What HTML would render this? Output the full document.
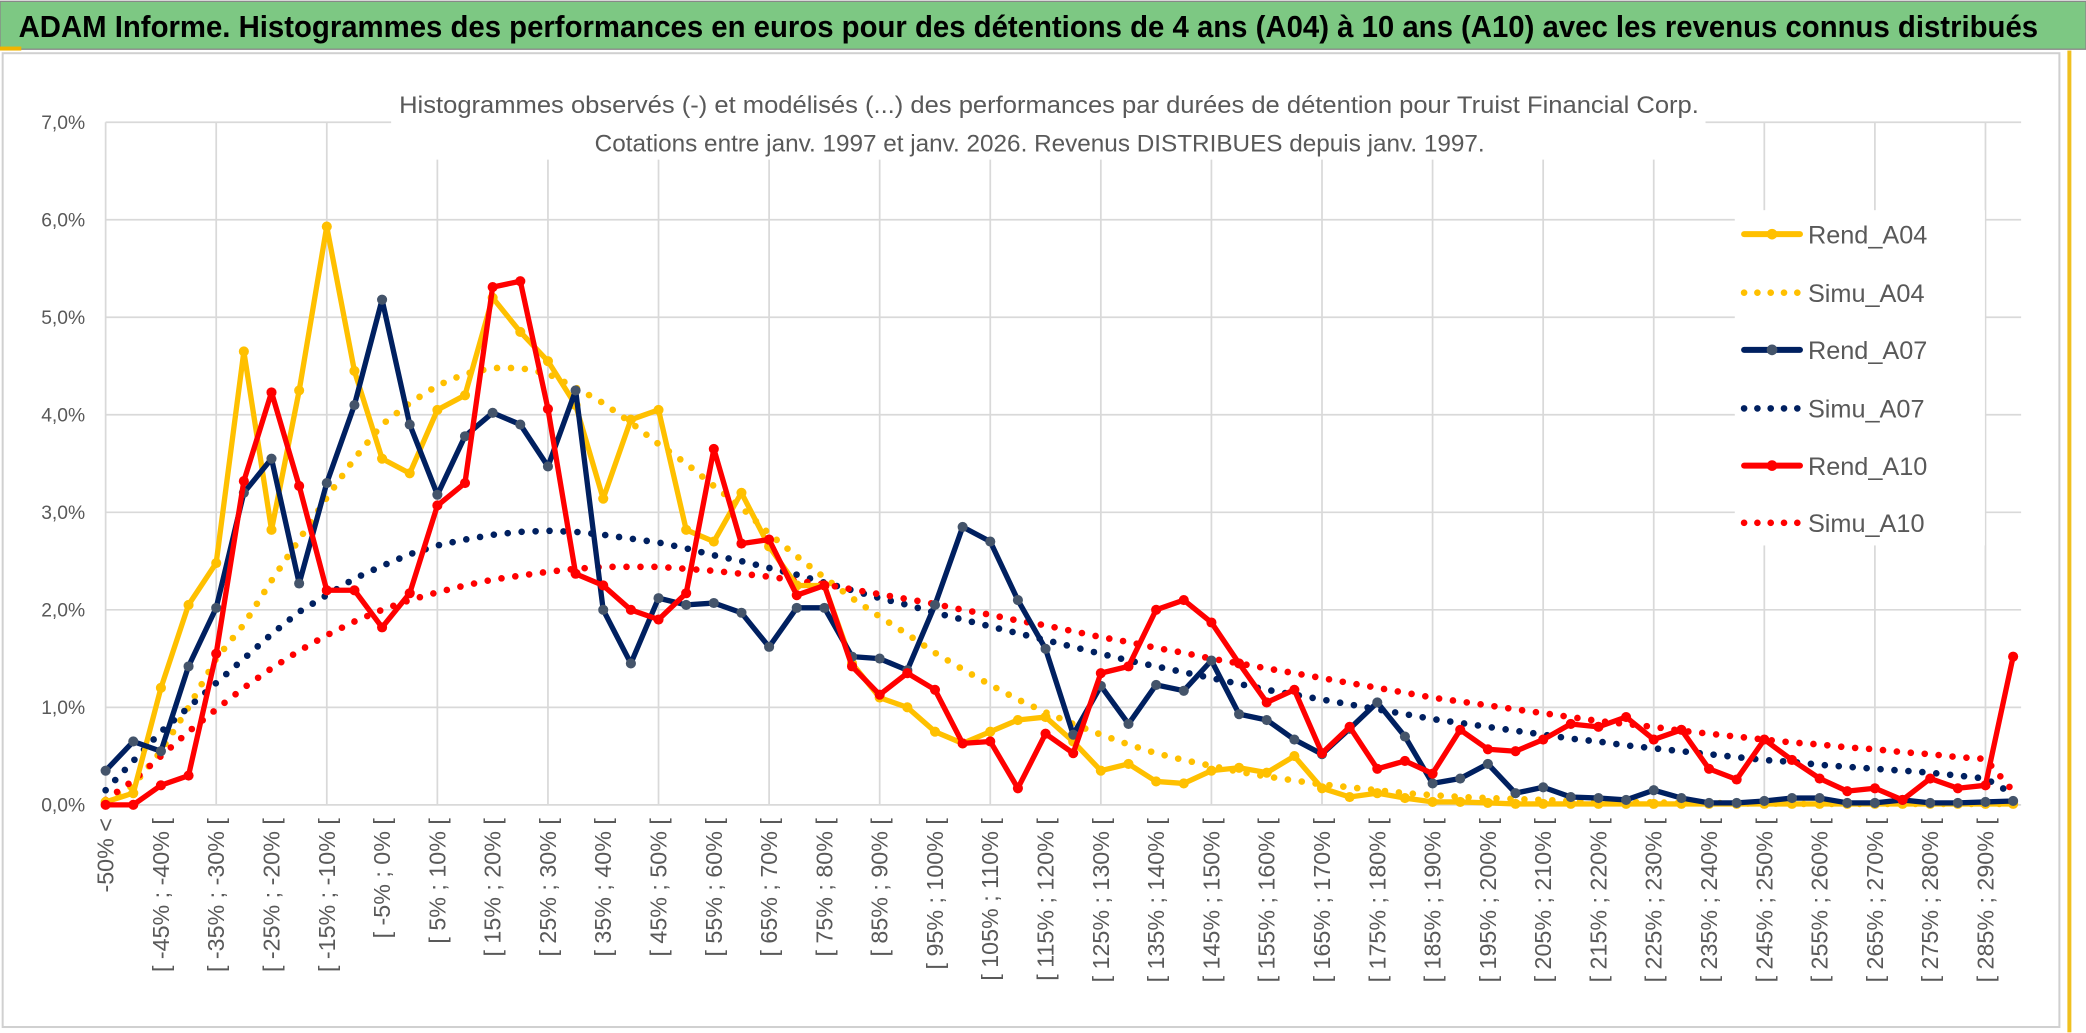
<!DOCTYPE html>
<html><head><meta charset="utf-8"><style>
html,body{margin:0;padding:0;background:#fff;width:2086px;height:1033px;overflow:hidden}
svg{display:block}
text{font-family:"Liberation Sans Narrow","Liberation Sans",sans-serif}
</style></head><body>
<svg id="chart" width="2086" height="1033" viewBox="0 0 1568 776.5" preserveAspectRatio="none" xmlns="http://www.w3.org/2000/svg">
<rect x="0" y="0" width="1568" height="776.5" fill="#fff"/>
<rect x="0" y="1" width="1568" height="36" fill="#7dc883" stroke="#888" stroke-width="1"/>
<rect x="0" y="35" width="16" height="3" fill="#f0b400"/>
<rect x="1554" y="38" width="3" height="738" fill="#f0c020"/>
<text x="14" y="28" font-size="23" font-weight="bold" fill="#000" textLength="1518" lengthAdjust="spacingAndGlyphs">ADAM Informe. Histogrammes des performances en euros pour des détentions de 4 ans (A04) à 10 ans (A10) avec les revenus connus distribués</text>
<rect x="2" y="40" width="1546" height="732" fill="none" stroke="#d0d0d0" stroke-width="1.5"/>
<g id="grid"></g>
<rect x="294" y="64" width="988" height="56" fill="#fff"/>
<text x="300" y="85" font-size="18" fill="#595959" textLength="977" lengthAdjust="spacingAndGlyphs">Histogrammes observés (-) et modélisés (...) des performances par durées de détention pour Truist Financial Corp.</text>
<text x="447" y="114" font-size="18" fill="#595959" textLength="669" lengthAdjust="spacingAndGlyphs">Cotations entre janv. 1997 et janv. 2026. Revenus DISTRIBUES depuis janv. 1997.</text>
<g id="series"></g>
<g id="xlabels"></g>
<g id="ylabels"></g>
<g id="legend"></g>
</svg>
<script>
const categories = [];
categories.push('-50% <');
for (let k = 1; k <= 68; k++) categories.push('[ ' + (-55 + 5*k) + '% ; ' + (-50 + 5*k) + '% [');
categories.push('> 290%');
const yTicks = [0,1,2,3,4,5,6,7];
const yTickLabels = ['0,0%','1,0%','2,0%','3,0%','4,0%','5,0%','6,0%','7,0%'];
const rendA04 = [0.03,0.12,1.2,2.05,2.48,4.65,2.82,4.25,5.93,4.45,3.55,3.4,4.05,4.2,5.2,4.85,4.55,4.1,3.14,3.95,4.05,2.82,2.7,3.2,2.65,2.25,2.25,1.45,1.1,1.0,0.75,0.63,0.75,0.87,0.9,0.65,0.35,0.42,0.24,0.22,0.35,0.38,0.33,0.5,0.17,0.08,0.12,0.07,0.03,0.03,0.02,0.01,0.01,0.01,0.01,0.01,0.01,0.01,0.01,0.01,0.01,0.01,0.01,0.01,0.01,0.01,0.01,0.01,0.01,0.01];
const simuA04 = [0.05,0.2,0.55,1.0,1.5,1.85,2.3,2.72,3.15,3.55,3.9,4.12,4.3,4.42,4.48,4.48,4.42,4.28,4.12,3.92,3.7,3.5,3.27,3.05,2.78,2.55,2.33,2.12,1.93,1.75,1.56,1.39,1.23,1.08,0.95,0.83,0.72,0.62,0.53,0.46,0.4,0.34,0.29,0.25,0.21,0.18,0.15,0.12,0.1,0.08,0.07,0.06,0.05,0.04,0.035,0.03,0.025,0.02,0.02,0.015,0.015,0.01,0.01,0.01,0.01,0.01,0.01,0.01,0.01,0.01];
const rendA07 = [0.35,0.65,0.55,1.42,2.02,3.2,3.55,2.27,3.3,4.1,5.18,3.9,3.18,3.78,4.02,3.9,3.47,4.25,2.0,1.45,2.12,2.05,2.07,1.97,1.62,2.02,2.02,1.52,1.5,1.38,2.05,2.85,2.7,2.1,1.6,0.72,1.22,0.83,1.23,1.17,1.48,0.93,0.87,0.67,0.52,0.78,1.05,0.7,0.22,0.27,0.42,0.12,0.18,0.08,0.07,0.05,0.15,0.07,0.02,0.02,0.04,0.07,0.07,0.02,0.02,0.05,0.02,0.02,0.03,0.04];
const simuA07 = [0.15,0.45,0.75,1.0,1.25,1.5,1.75,1.98,2.15,2.32,2.45,2.57,2.66,2.72,2.77,2.8,2.81,2.8,2.77,2.73,2.69,2.63,2.56,2.5,2.43,2.36,2.28,2.2,2.12,2.05,1.97,1.9,1.83,1.76,1.69,1.62,1.55,1.48,1.42,1.36,1.3,1.24,1.18,1.13,1.08,1.03,0.98,0.93,0.88,0.84,0.8,0.76,0.72,0.68,0.65,0.61,0.58,0.55,0.52,0.49,0.46,0.44,0.41,0.39,0.37,0.35,0.33,0.3,0.27,0.11];
const rendA10 = [0.0,0.0,0.2,0.3,1.55,3.32,4.23,3.27,2.2,2.2,1.82,2.17,3.07,3.3,5.31,5.37,4.06,2.37,2.25,2.0,1.9,2.17,3.65,2.68,2.72,2.15,2.25,1.42,1.13,1.35,1.18,0.63,0.65,0.17,0.73,0.53,1.35,1.42,2.0,2.1,1.87,1.45,1.05,1.18,0.53,0.8,0.37,0.45,0.32,0.77,0.57,0.55,0.67,0.83,0.8,0.9,0.67,0.77,0.37,0.26,0.67,0.46,0.27,0.14,0.17,0.05,0.27,0.17,0.2,1.52];
const simuA10 = [0.05,0.25,0.5,0.75,0.98,1.2,1.4,1.58,1.74,1.88,2.0,2.1,2.18,2.25,2.31,2.35,2.39,2.42,2.44,2.44,2.44,2.42,2.4,2.37,2.34,2.3,2.26,2.21,2.16,2.11,2.06,2.0,1.95,1.89,1.84,1.78,1.72,1.67,1.61,1.56,1.5,1.45,1.4,1.35,1.3,1.25,1.2,1.15,1.1,1.06,1.02,0.98,0.94,0.9,0.86,0.83,0.8,0.76,0.73,0.7,0.67,0.64,0.62,0.59,0.57,0.54,0.52,0.49,0.47,0.14];

const NS = 'http://www.w3.org/2000/svg';
const X0 = 79.4, DX = 20.78, Y0 = 605, PY = 73.3;
const xScale = i => X0 + i * DX;
const yScale = v => Y0 - v * PY;
function mk(tag, attrs, parent) {
  const e = document.createElementNS(NS, tag);
  for (const k in attrs) e.setAttribute(k, attrs[k]);
  parent.appendChild(e);
  return e;
}
const grid = document.getElementById('grid');
const xRight = xScale(categories.length - 1) + 6;
yTicks.forEach(t => {
  const l = mk('line', {x1: X0, x2: xRight, y1: yScale(t), y2: yScale(t), stroke: '#d9d9d9', 'stroke-width': 1.3}, grid);
  
  
});
for (let i = 0; i < categories.length; i += 4) {
  const l = mk('line', {x1: xScale(i), x2: xScale(i), y1: yScale(7), y2: yScale(0), stroke: '#d9d9d9', 'stroke-width': 1.3}, grid);
  
  
}
const yl = document.getElementById('ylabels');
yTicks.forEach((t, j) => {
  const tx = mk('text', {x: 64, y: yScale(t) + 5, 'font-size': 14.5, fill: '#595959', 'text-anchor': 'end'}, yl);
  tx.textContent = yTickLabels[j];
  
  
});
const xl = document.getElementById('xlabels');
categories.forEach((c, i) => {
  if (i % 2) return;
  const x = xScale(i) + 6, y = 615;
  const tx = mk('text', {x: x, y: y, 'font-size': 17.5, fill: '#595959', 'text-anchor': 'end', transform: 'rotate(-90 ' + x + ' ' + y + ')'}, xl);
  tx.textContent = c;
  
  
});
const sg = document.getElementById('series');
function pts(arr) { return arr.map((v, i) => xScale(i).toFixed(1) + ',' + yScale(v).toFixed(1)).join(' '); }
function dotted(arr, color, name) {
  const p = mk('polyline', {points: pts(arr), fill: 'none', stroke: color, 'stroke-width': 5, 'stroke-linecap': 'round', 'stroke-dasharray': '0 10.5'}, sg);
  
  
}
function solid(arr, color, mcolor, name) {
  const g = mk('g', {}, sg);
  
  
  mk('polyline', {points: pts(arr), fill: 'none', stroke: color, 'stroke-width': 4, 'stroke-linejoin': 'round'}, g);
  arr.forEach((v, i) => {
    const c = mk('circle', {cx: xScale(i), cy: yScale(v), r: 3.8, fill: mcolor}, g);
    
    
  });
}
dotted(simuA04, '#ffc000', 'simu-a04-line');
dotted(simuA07, '#002060', 'simu-a07-line');
dotted(simuA10, '#ff0000', 'simu-a10-line');
solid(rendA04, '#ffc000', '#ffc000', 'rend-a04-line');
solid(rendA07, '#002060', '#44546a', 'rend-a07-line');
solid(rendA10, '#ff0000', '#ff0000', 'rend-a10-line');

const lg = document.getElementById('legend');
const lbox = mk('rect', {x: 1304, y: 158, width: 188, height: 252, fill: '#fff'}, lg);


const legendNames = ['Rend_A04','Simu_A04','Rend_A07','Simu_A07','Rend_A10','Simu_A10'];
const legendColors = ['#ffc000','#ffc000','#002060','#002060','#ff0000','#ff0000'];
const legendMarker = ['#ffc000',null,'#44546a',null,'#ff0000',null];
const legendY = [176,220,263,307,350,393];
legendNames.forEach((n, j) => {
  const g = mk('g', {}, lg);
  
  
  const y = legendY[j];
  if (legendMarker[j]) {
    mk('line', {x1: 1311, x2: 1353, y1: y, y2: y, stroke: legendColors[j], 'stroke-width': 4.5, 'stroke-linecap': 'round'}, g);
    mk('circle', {cx: 1332, cy: y, r: 4, fill: legendMarker[j]}, g);
  } else {
    mk('line', {x1: 1311, x2: 1353, y1: y, y2: y, stroke: legendColors[j], 'stroke-width': 5, 'stroke-linecap': 'round', 'stroke-dasharray': '0 10'}, g);
  }
  const t = mk('text', {x: 1359, y: y + 7, 'font-size': 19, fill: '#595959'}, g);
  t.textContent = n;
});
</script>
</body></html>
